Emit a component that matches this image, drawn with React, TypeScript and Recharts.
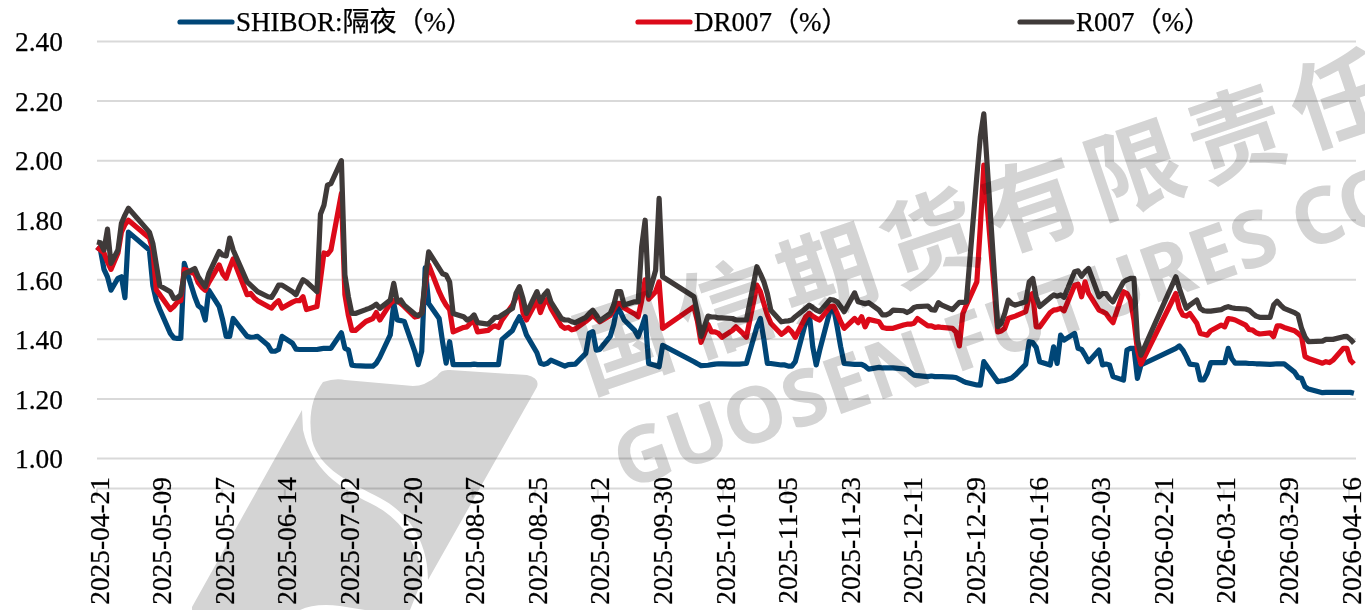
import React from "react";
import { ComposedChart, Line, XAxis, YAxis, CartesianGrid, Legend } from "recharts";

const tradingDates: string[] = [
  "2025-04-21","2025-04-22","2025-04-23","2025-04-24","2025-04-25","2025-04-27","2025-04-28","2025-04-29","2025-04-30",
  "2025-05-06","2025-05-07","2025-05-08","2025-05-09","2025-05-12","2025-05-13","2025-05-14","2025-05-15","2025-05-16","2025-05-19","2025-05-20","2025-05-21","2025-05-22","2025-05-23","2025-05-26","2025-05-27","2025-05-28","2025-05-29","2025-05-30",
  "2025-06-03","2025-06-04","2025-06-05","2025-06-06","2025-06-09","2025-06-10","2025-06-11","2025-06-12","2025-06-13","2025-06-16","2025-06-17","2025-06-18","2025-06-19","2025-06-20","2025-06-23","2025-06-24","2025-06-25","2025-06-26","2025-06-27","2025-06-30",
  "2025-07-01","2025-07-02","2025-07-03","2025-07-04","2025-07-07","2025-07-08","2025-07-09","2025-07-10","2025-07-11","2025-07-14","2025-07-15","2025-07-16","2025-07-17","2025-07-18","2025-07-21","2025-07-22","2025-07-23","2025-07-24","2025-07-25","2025-07-28","2025-07-29","2025-07-30","2025-07-31",
  "2025-08-01","2025-08-04","2025-08-05","2025-08-06","2025-08-07","2025-08-08","2025-08-11","2025-08-12","2025-08-13","2025-08-14","2025-08-15","2025-08-18","2025-08-19","2025-08-20","2025-08-21","2025-08-22","2025-08-25","2025-08-26","2025-08-27","2025-08-28","2025-08-29",
  "2025-09-01","2025-09-02","2025-09-03","2025-09-04","2025-09-05","2025-09-08","2025-09-09","2025-09-10","2025-09-11","2025-09-12","2025-09-15","2025-09-16","2025-09-17","2025-09-18","2025-09-19","2025-09-22","2025-09-23","2025-09-24","2025-09-25","2025-09-26","2025-09-28","2025-09-29","2025-09-30",
  "2025-10-09","2025-10-10","2025-10-11","2025-10-13","2025-10-14","2025-10-15","2025-10-16","2025-10-17","2025-10-20","2025-10-21","2025-10-22","2025-10-23","2025-10-24","2025-10-27","2025-10-28","2025-10-29","2025-10-30","2025-10-31",
  "2025-11-03","2025-11-04","2025-11-05","2025-11-06","2025-11-07","2025-11-10","2025-11-11","2025-11-12","2025-11-13","2025-11-14","2025-11-17","2025-11-18","2025-11-19","2025-11-20","2025-11-21","2025-11-24","2025-11-25","2025-11-26","2025-11-27","2025-11-28",
  "2025-12-01","2025-12-02","2025-12-03","2025-12-04","2025-12-05","2025-12-08","2025-12-09","2025-12-10","2025-12-11","2025-12-12","2025-12-15","2025-12-16","2025-12-17","2025-12-18","2025-12-19","2025-12-22","2025-12-23","2025-12-24","2025-12-25","2025-12-26","2025-12-29","2025-12-30","2025-12-31",
  "2026-01-04","2026-01-05","2026-01-06","2026-01-07","2026-01-08","2026-01-09","2026-01-12","2026-01-13","2026-01-14","2026-01-15","2026-01-16","2026-01-19","2026-01-20","2026-01-21","2026-01-22","2026-01-23","2026-01-26","2026-01-27","2026-01-28","2026-01-29","2026-01-30",
  "2026-02-02","2026-02-03","2026-02-04","2026-02-05","2026-02-06","2026-02-09","2026-02-10","2026-02-11","2026-02-12","2026-02-13","2026-02-14","2026-02-24","2026-02-25","2026-02-26","2026-02-27","2026-02-28",
  "2026-03-02","2026-03-03","2026-03-04","2026-03-05","2026-03-06","2026-03-09","2026-03-10","2026-03-11","2026-03-12","2026-03-13","2026-03-16","2026-03-17","2026-03-18","2026-03-19","2026-03-20","2026-03-23","2026-03-24","2026-03-25","2026-03-26","2026-03-27","2026-03-30","2026-03-31",
  "2026-04-01","2026-04-02","2026-04-03","2026-04-07","2026-04-08","2026-04-09","2026-04-10","2026-04-13","2026-04-14","2026-04-15","2026-04-16",
];

const shibor: number[] = [
  1.71,1.70,1.635,1.61,1.565,1.605,1.61,1.54,1.76,
  1.70,1.58,1.53,1.50,1.42,1.405,1.403,1.403,1.655,1.543,1.513,1.504,1.465,1.565,1.51,1.465,1.41,1.41,1.47,
  1.41,1.407,1.408,1.41,1.38,1.36,1.36,1.366,1.41,1.387,1.367,1.366,1.366,1.366,1.366,1.368,1.37,1.37,1.37,1.422,
  1.37,1.365,1.313,1.312,1.31,1.31,1.31,1.32,1.34,1.415,1.52,1.465,1.463,1.46,1.36,1.315,1.36,1.64,1.52,1.47,1.39,1.32,1.392,
  1.315,1.315,1.315,1.315,1.317,1.315,1.315,1.315,1.315,1.315,1.40,1.43,1.455,1.476,1.45,1.415,1.355,1.32,1.316,1.32,1.33,
  1.315,1.31,1.315,1.316,1.317,1.353,1.42,1.426,1.364,1.366,1.41,1.45,1.51,1.49,1.465,1.43,1.409,1.44,1.476,1.319,1.312,1.308,1.38,
  1.325,1.318,1.312,1.313,1.315,1.317,1.318,1.318,1.317,1.317,1.317,1.318,1.319,1.442,1.47,1.40,1.319,1.319,
  1.314,1.314,1.31,1.31,1.325,1.459,1.487,1.375,1.314,1.364,1.498,1.504,1.442,1.375,1.319,1.316,1.316,1.316,1.31,1.30,
  1.306,1.304,1.304,1.304,1.304,1.301,1.299,1.288,1.28,1.278,1.275,1.277,1.275,1.275,1.275,1.273,1.272,1.266,1.26,1.255,1.247,1.246,1.325,
  1.258,1.26,1.262,1.266,1.27,1.28,1.316,1.392,1.389,1.373,1.325,1.314,1.375,1.319,1.414,1.398,1.42,1.37,1.366,1.347,1.325,
  1.364,1.314,1.317,1.314,1.275,1.263,1.364,1.37,1.37,1.269,1.314,1.37,1.378,1.364,1.342,1.317,
  1.314,1.264,1.264,1.286,1.322,1.322,1.322,1.37,1.336,1.32,1.32,1.319,1.319,1.318,1.318,1.316,1.317,1.318,1.318,1.318,1.29,1.272,
  1.269,1.241,1.233,1.221,1.222,1.222,1.222,1.222,1.222,1.222,1.219,
];

const dr007: number[] = [
  1.71,1.70,1.69,1.66,1.635,1.69,1.76,1.785,1.80,
  1.74,1.70,1.565,1.55,1.50,1.51,1.525,1.53,1.635,1.62,1.59,1.575,1.565,1.59,1.65,1.62,1.605,1.64,1.67,
  1.55,1.554,1.54,1.53,1.51,1.505,1.52,1.53,1.505,1.525,1.53,1.53,1.543,1.50,1.51,1.60,1.69,1.685,1.70,1.89,
  1.55,1.48,1.43,1.43,1.46,1.465,1.47,1.49,1.465,1.52,1.53,1.53,1.52,1.51,1.475,1.478,1.49,1.58,1.65,1.56,1.535,1.515,1.50,
  1.425,1.44,1.442,1.455,1.46,1.425,1.43,1.44,1.445,1.44,1.465,1.515,1.54,1.565,1.49,1.465,1.53,1.49,1.52,1.535,1.505,
  1.445,1.437,1.44,1.432,1.435,1.46,1.47,1.482,1.47,1.459,1.48,1.50,1.52,1.52,1.505,1.485,1.476,1.53,1.60,1.535,1.56,1.593,1.437,
  1.51,1.46,1.39,1.45,1.425,1.425,1.42,1.407,1.43,1.442,1.431,1.42,1.407,1.582,1.56,1.52,1.482,1.454,
  1.417,1.425,1.437,1.425,1.407,1.476,1.487,1.478,1.47,1.465,1.51,1.512,1.487,1.459,1.437,1.47,1.456,1.476,1.442,1.467,
  1.459,1.44,1.437,1.437,1.437,1.448,1.451,1.451,1.454,1.47,1.445,1.445,1.44,1.442,1.44,1.437,1.425,1.378,1.487,1.515,1.593,1.778,1.985,
  1.425,1.428,1.437,1.47,1.474,1.478,1.493,1.543,1.554,1.442,1.442,1.49,1.498,1.50,1.504,1.496,1.582,1.585,1.543,1.593,1.554,
  1.498,1.493,1.487,1.47,1.456,1.56,1.554,1.532,1.465,1.364,1.317,1.554,1.504,1.482,1.478,1.487,
  1.454,1.42,1.417,1.414,1.429,1.448,1.442,1.47,1.468,1.465,1.448,1.433,1.431,1.422,1.418,1.422,1.409,1.445,1.445,1.44,1.429,1.42,
  1.409,1.342,1.336,1.32,1.325,1.322,1.33,1.37,1.37,1.33,1.317,
];

const r007: number[] = [
  1.727,1.724,1.70,1.77,1.655,1.70,1.79,1.817,1.84,
  1.76,1.722,1.65,1.58,1.56,1.537,1.54,1.55,1.62,1.638,1.61,1.593,1.577,1.62,1.695,1.683,1.68,1.74,1.70,
  1.593,1.582,1.571,1.56,1.543,1.541,1.56,1.582,1.582,1.56,1.55,1.577,1.60,1.593,1.56,1.82,1.85,1.918,1.923,2.00,
  1.616,1.543,1.487,1.487,1.50,1.504,1.51,1.518,1.504,1.532,1.588,1.526,1.532,1.515,1.485,1.48,1.487,1.60,1.694,1.638,1.62,1.616,1.593,
  1.487,1.476,1.465,1.47,1.482,1.456,1.451,1.462,1.474,1.474,1.482,1.504,1.554,1.577,1.537,1.487,1.56,1.526,1.548,1.562,1.526,
  1.47,1.465,1.465,1.459,1.456,1.474,1.487,1.498,1.482,1.462,1.487,1.515,1.56,1.56,1.515,1.526,1.526,1.711,1.80,1.548,1.632,1.873,1.61,
  1.543,1.487,1.41,1.478,1.475,1.475,1.472,1.472,1.47,1.465,1.465,1.465,1.465,1.644,1.62,1.593,1.554,1.498,
  1.459,1.461,1.462,1.465,1.476,1.504,1.515,1.507,1.498,1.493,1.534,1.532,1.526,1.51,1.493,1.556,1.526,1.523,1.52,1.523,
  1.498,1.482,1.482,1.487,1.498,1.496,1.49,1.496,1.507,1.51,1.512,1.50,1.498,1.523,1.515,1.50,1.512,1.524,1.524,1.526,1.948,2.08,2.157,
  1.443,1.454,1.487,1.532,1.52,1.515,1.526,1.593,1.604,1.543,1.51,1.54,1.549,1.545,1.549,1.541,1.627,1.63,1.612,1.627,1.638,
  1.543,1.554,1.554,1.537,1.526,1.593,1.60,1.605,1.605,1.40,1.347,1.61,1.571,1.537,1.504,1.515,
  1.532,1.504,1.496,1.495,1.495,1.50,1.506,1.51,1.506,1.504,1.502,1.498,1.487,1.478,1.474,1.474,1.515,1.528,1.515,1.504,1.49,1.482,
  1.437,1.408,1.392,1.394,1.40,1.40,1.40,1.409,1.41,1.40,1.387,
];

const tickLabels: string[] = [
  "2025-04-21","2025-05-09","2025-05-27","2025-06-14","2025-07-02","2025-07-20","2025-08-07","2025-08-25","2025-09-12","2025-09-30","2025-10-18",
  "2025-11-05","2025-11-23","2025-12-11","2025-12-29","2026-01-16","2026-02-03","2026-02-21","2026-03-11","2026-03-29","2026-04-16",
];
const yTicks: number[] = [1, 1.2, 1.4, 1.6, 1.8, 2, 2.2, 2.4];
const seriesNames: string[] = ["SHIBOR:隔夜（%）", "DR007（%）", "R007（%）"];

const BLUE = "#004677";
const RED = "#DC0A19";
const DARK = "#3F3A39";
const GRID = "#D9D9D9";
const SERIF = '"Liberation Serif", "Noto Sans CJK SC", serif';
const LINE_WIDTH = 5.2;

const dayOf = (iso: string) => (Date.parse(iso) - Date.parse(tradingDates[0])) / 86400000;
const rows = tradingDates.map((date, i) => ({
  day: dayOf(date),
  shibor: shibor[i],
  dr007: dr007[i],
  r007: r007[i],
}));
const tickDays = tickLabels.map(dayOf);

const XTick = (props: any) => {
  const { x, payload } = props;
  return (
    <text
      x={0}
      y={0}
      transform={`translate(${x + 11.5},477) rotate(-90)`}
      textAnchor="end"
      fontFamily={SERIF}
      fontSize={27.4}
      fill="#000"
      stroke="#000"
      strokeWidth={0.25}
    >
      {tickLabels[tickDays.indexOf(payload.value)]}
    </text>
  );
};

const legendLayout = [
  { x: 178, color: BLUE },
  { x: 636, color: RED },
  { x: 1018, color: DARK },
];

const LegendContent = () => (
  <svg width={1365} height={40} style={{ display: "block" }}>
    {legendLayout.map((item, i) => (
      <g key={i}>
        <line x1={item.x + 2} x2={item.x + 54} y1={22} y2={22} stroke={item.color} strokeWidth={LINE_WIDTH} strokeLinecap="round" />
        <text x={item.x + 58} y={31} fontFamily={SERIF} fontSize={27} fill="#000" stroke="#000" strokeWidth={0.25}>
          {seriesNames[i]}
        </text>
      </g>
    ))}
  </svg>
);

const Watermark = () => (
  <svg
    width={1365}
    height={610}
    style={{ position: "absolute", left: 0, top: 0, pointerEvents: "none", mixBlendMode: "multiply" }}
  >
    <g fill="#D4D4D4">
      <path d="M 323 382 Q 335 378 345 380 L 413 386 Q 425 386 437 376 Q 441 369 450 370 L 527 375 Q 540 378 537 387 L 428 580 C 428 545 412 515 380 498 C 350 482 320 470 312 440 Q 306 405 323 382 Z" />
      <path d="M 302 410 L 192 607 L 192 610 L 300 610 Q 315 603 340 606 L 365 610 L 410 610 L 422 580 C 420 540 395 515 370 503 C 340 488 312 470 303 430 Z" />
      <text
        transform="translate(589,392) rotate(-18.8)"
        fontFamily='"Noto Sans CJK SC"'
        fontWeight={700}
        fontSize={96}
        letterSpacing={12}
      >
        国信期货有限责任公司
      </text>
      <text
        transform="translate(625,490) rotate(-19.4)"
        fontFamily='"Noto Sans"'
        fontWeight={700}
        fontSize={78}
        letterSpacing={0.5}
      >
        GUOSEN FUTURES CO
      </text>
    </g>
  </svg>
);

export default function App() {
  return (
    <div style={{ position: "absolute", left: 0, top: 0, width: 1365, height: 610, overflow: "hidden", background: "#fff" }}>
      <ComposedChart
        width={1365}
        height={610}
        data={rows}
        margin={{ top: 41.5, right: 9, bottom: 0, left: 0 }}
      >
        <CartesianGrid xAxisId="data" horizontal vertical={false} stroke={GRID} strokeWidth={2} />
        <XAxis xAxisId="data" dataKey="day" type="number" domain={[0, 360.6]} hide />
        <XAxis
          xAxisId="dates"
          dataKey="day"
          type="number"
          domain={[0, 362]}
          ticks={tickDays}
          interval={0}
          height={151.5}
          tick={<XTick />}
          tickSize={9}
          axisLine={{ stroke: GRID, strokeWidth: 2 }}
          tickLine={{ stroke: GRID, strokeWidth: 2 }}
        />
        <YAxis
          type="number"
          domain={[1, 2.4]}
          ticks={yTicks}
          interval={0}
          width={97}
          axisLine={false}
          tickLine={false}
          tickSize={0}
          tickMargin={34}
          tickFormatter={(v: number) => v.toFixed(2)}
          tick={{ fontFamily: SERIF, fontSize: 27.4, fill: "#000", stroke: "#000", strokeWidth: 0.25 }}
        />
        <Legend layout="horizontal" verticalAlign="middle" wrapperStyle={{ left: 0, top: 0, width: 1365 }} content={<LegendContent />} />
        <Line xAxisId="data" dataKey="shibor" name={seriesNames[0]} stroke={BLUE} strokeWidth={LINE_WIDTH} strokeLinejoin="round" dot={false} isAnimationActive={false} />
        <Line xAxisId="data" dataKey="dr007" name={seriesNames[1]} stroke={RED} strokeWidth={LINE_WIDTH} strokeLinejoin="round" dot={false} isAnimationActive={false} />
        <Line xAxisId="data" dataKey="r007" name={seriesNames[2]} stroke={DARK} strokeWidth={LINE_WIDTH} strokeLinejoin="round" dot={false} isAnimationActive={false} />
      </ComposedChart>
      <Watermark />
    </div>
  );
}
